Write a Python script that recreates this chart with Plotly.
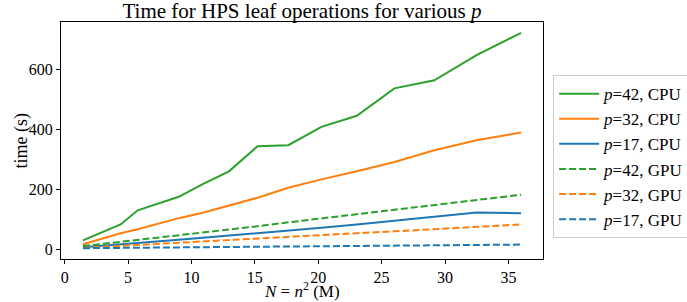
import plotly.graph_objects as go

N = [1.44, 4.41, 5.76, 9.0, 10.89, 12.96, 15.21, 17.64, 20.25, 23.04, 26.01, 29.16, 32.49, 36.0]

cpu_p42 = [31, 84, 131, 176, 218, 261, 344, 348, 409, 446, 537, 564, 648, 722]
cpu_p32 = [18, 55, 68, 105, 123, 148, 173, 206, 234, 261, 292, 331, 364, 390]
cpu_p17 = [8, 17, 22, 33, 40, 47, 55, 63, 73, 84, 96, 109, 124, 121]
gpu_p42 = [12, 26, 32, 47, 56, 67, 78, 91, 104, 118, 133, 149, 165, 183]
gpu_p32 = [6, 13, 16, 22, 27, 32, 37, 42, 48, 55, 61, 68, 76, 84]
gpu_p17 = [5, 6, 6, 7, 8, 8, 9, 10, 10, 11, 12, 13, 15, 17]

x_ticks = [0, 5, 10, 15, 20, 25, 30, 35]
y_ticks = [0, 200, 400, 600]

GREEN, ORANGE, BLUE = "#2ca02c", "#ff7f0e", "#1f77b4"

series = [
    ("<i>p</i>=42, CPU", cpu_p42, GREEN, "solid"),
    ("<i>p</i>=32, CPU", cpu_p32, ORANGE, "solid"),
    ("<i>p</i>=17, CPU", cpu_p17, BLUE, "solid"),
    ("<i>p</i>=42, GPU", gpu_p42, GREEN, "7px,3px"),
    ("<i>p</i>=32, GPU", gpu_p32, ORANGE, "7px,3px"),
    ("<i>p</i>=17, GPU", gpu_p17, BLUE, "7px,3px"),
]

FONT = "Liberation Serif"
fig = go.Figure()
for name, ys, col, dash in series:
    fig.add_trace(go.Scatter(x=N, y=ys, mode="lines", name=name,
                             line=dict(color=col, width=2, dash=dash)))

fig.update_layout(
    width=687, height=302,
    margin=dict(l=61, r=144, t=22, b=43, autoexpand=False),
    paper_bgcolor="white", plot_bgcolor="white",
    font=dict(family=FONT, color="black", size=16),
    title=dict(text="Time for HPS leaf operations for various <i>p</i>",
               x=0.5, xref="paper", xanchor="center",
               y=1 - 11 / 302, yref="container", yanchor="middle",
               font=dict(family=FONT, size=21, color="black")),
    xaxis=dict(range=[-0.29, 37.73], tickvals=x_ticks, ticks="outside", ticklen=4,
               tickcolor="black", showline=True, linecolor="black", linewidth=1,
               mirror=True, showgrid=False, zeroline=False,
               tickfont=dict(size=16)),
    yaxis=dict(range=[-31, 758], tickvals=y_ticks, ticks="outside", ticklen=4,
               tickcolor="black", showline=True, linecolor="black", linewidth=1,
               mirror=True, showgrid=False, zeroline=False,
               tickfont=dict(size=16)),
    legend=dict(x=1.021, xanchor="left", y=0.776, yanchor="top",
                bgcolor="white", bordercolor="#cccccc", borderwidth=1,
                itemwidth=40,
                font=dict(family=FONT, size=17), tracegroupgap=0),
    showlegend=True,
    annotations=[
        dict(text="<i>N</i> = <i>n</i><sup>2</sup> (M)", xref="paper", yref="paper",
             x=0.5, y=-0.131, xanchor="center", yanchor="middle", showarrow=False,
             font=dict(family=FONT, size=17, color="black")),
        dict(text="time (s)", xref="paper", yref="paper", textangle=-90,
             x=-0.081, y=0.5, xanchor="center", yanchor="middle", showarrow=False,
             font=dict(family=FONT, size=18, color="black")),
    ],
)

fig.write_html("out.html", config={"displayModeBar": False})

# remove the browser's default 8px body margin so the figure sits at the page origin
with open("out.html", encoding="utf-8") as f:
    html = f.read()
html = html.replace("<body>", '<body style="margin:0;overflow:hidden">', 1)
with open("out.html", "w", encoding="utf-8") as f:
    f.write(html)
